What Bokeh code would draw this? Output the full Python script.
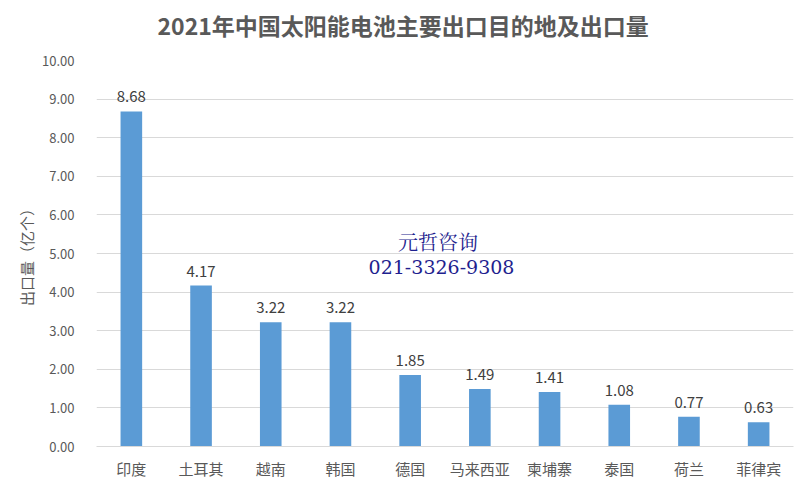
from bokeh.plotting import figure
from bokeh.models import ColumnDataSource, FixedTicker, NumeralTickFormatter, Label, Range1d, Title
from bokeh.core.properties import value
from bokeh.embed import file_html
from bokeh.resources import INLINE

categories = ["印度", "土耳其", "越南", "韩国", "德国", "马来西亚", "柬埔寨", "泰国", "荷兰", "菲律宾"]
values = [8.68, 4.17, 3.22, 3.22, 1.85, 1.49, 1.41, 1.08, 0.77, 0.63]
y_ticks = [0, 1, 2, 3, 4, 5, 6, 7, 8, 9, 10]
title_text = "2021年中国太阳能电池主要出口目的地及出口量"
y_label = "出口量（亿个）"
watermark = ["元哲咨询", "021-3326-9308"]

FONT = "Noto Sans CJK SC"

src = ColumnDataSource(dict(x=categories, y=values, lab=["%.2f" % v for v in values]))

p = figure(width=807, height=489, x_range=categories, y_range=Range1d(0, 10),
           output_backend="svg", toolbar_location=None,
           min_border_left=96, min_border_right=14, min_border_top=60, min_border_bottom=43)
p.outline_line_color = None
p.background_fill_color = "white"

p.title.text = title_text
p.title.align = "left"
p.title.offset = 61
p.title.text_font = FONT
p.title.text_font_size = "23px"
p.title.text_font_style = "bold"
p.title.text_color = "#595959"
# small spacer between the title and the plot frame
p.add_layout(Title(text=" ", text_font_size="2px"), "above")

p.vbar(x="x", top="y", width=0.31, source=src, color="#5b9bd5", line_color=None)
p.text(x="x", y="y", text="lab", source=src, y_offset=-9, text_align="center",
       text_baseline="bottom", text_font=value(FONT), text_font_size="15px", text_color="#404040")

p.yaxis.ticker = FixedTicker(ticks=y_ticks)
p.yaxis.formatter = NumeralTickFormatter(format="0.00")
p.yaxis.axis_line_color = None
p.yaxis.major_tick_line_color = None
p.yaxis.minor_tick_line_color = None
p.yaxis.major_label_text_font = FONT
p.yaxis.major_label_text_font_size = "13px"
p.yaxis.major_label_text_color = "#595959"
p.yaxis.major_label_standoff = 16
p.yaxis.axis_label = y_label
p.yaxis.axis_label_text_font = FONT
p.yaxis.axis_label_text_font_size = "15px"
p.yaxis.axis_label_text_font_style = "normal"
p.yaxis.axis_label_text_color = "#595959"
p.yaxis.axis_label_standoff = 2

p.xaxis.axis_line_color = "#d9d9d9"
p.xaxis.major_tick_line_color = None
p.xaxis.minor_tick_line_color = None
p.xaxis.major_label_text_font = FONT
p.xaxis.major_label_text_font_size = "15px"
p.xaxis.major_label_text_color = "#595959"
p.xaxis.major_label_standoff = 5

p.xgrid.grid_line_color = None
p.ygrid.grid_line_color = "#d9d9d9"

p.add_layout(Label(x=4.9, y=5.31, text=watermark[0], text_align="center", text_baseline="middle",
                   text_font="Noto Serif CJK SC", text_font_size="20px", text_color="#1f1f8f"))
p.add_layout(Label(x=4.95, y=4.66, text=watermark[1], text_align="center", text_baseline="middle",
                   text_font="DejaVu Serif", text_font_size="19px", text_color="#1f1f8f"))

open("out.html", "w").write(file_html(p, INLINE))
